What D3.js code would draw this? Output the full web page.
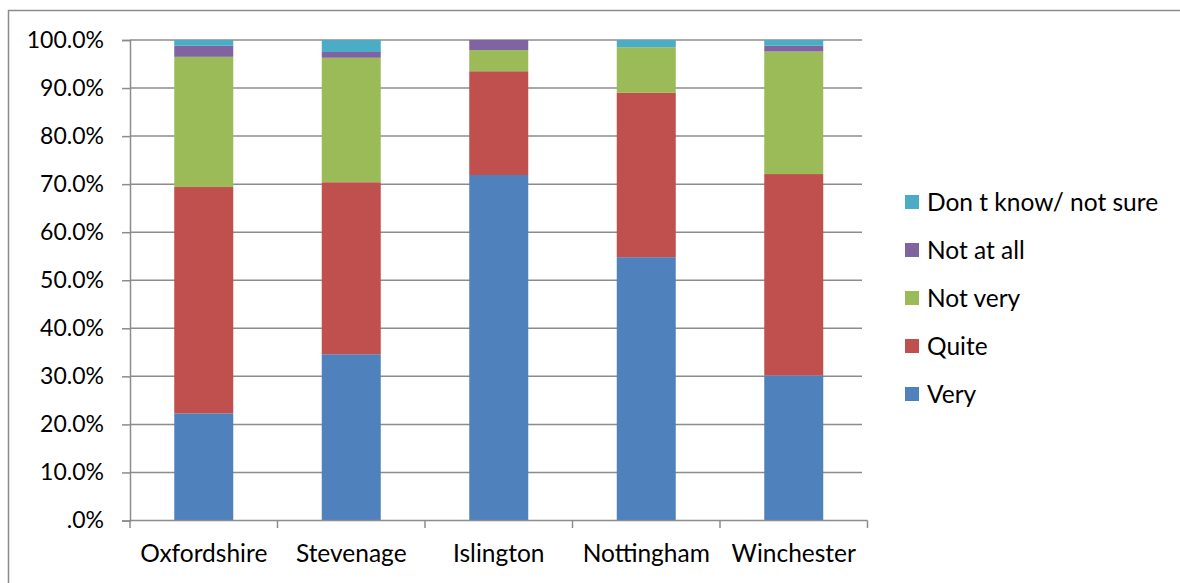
<!DOCTYPE html>
<html><head><meta charset="utf-8">
<script src="https://cdn.jsdelivr.net/npm/d3@7"></script>
<style>body{margin:0;background:#fff;} svg{display:block;} text{font-family:"Lato",sans-serif;}</style>
</head><body>
<svg id="c" width="1180" height="583"></svg>
<script>
const categories = ["Oxfordshire","Stevenage","Islington","Nottingham","Winchester"];
const seriesNames = ["Very","Quite","Not very","Not at all","Don t know/ not sure"];
const very     = [22.3, 34.6, 71.9, 54.8, 30.2];
const quite    = [47.1, 35.8, 21.6, 34.2, 41.9];
const notVery  = [27.1, 25.9, 4.4, 9.5, 25.5];
const notAtAll = [2.3, 1.2, 2.1, 0.0, 1.2];
const dontKnow = [1.2, 2.5, 0.0, 1.5, 1.2];
const yTicks = [0,10,20,30,40,50,60,70,80,90,100];
const yTickLabels = [".0%","10.0%","20.0%","30.0%","40.0%","50.0%","60.0%","70.0%","80.0%","90.0%","100.0%"];
const colors = ["#4f81bd","#c0504d","#9bbb59","#8064a2","#4bacc6"];
const FSY = 23, FSX = 24.5;

const svg = d3.select("#c");
svg.append("rect").attr("x",8.5).attr("y",10.5).attr("width",1200).attr("height",600)
  .attr("fill","none").attr("stroke","#8c8c8c").attr("stroke-width",1.5);

const x = d3.scaleBand().domain(categories).range([130,867.5]).paddingInner(0.6).paddingOuter(0.3);
const y = d3.scaleLinear().domain([0,100]).range([520.5,40]);

svg.append("g").selectAll("line").data(yTicks.slice(1)).join("line")
  .attr("x1",130).attr("x2",862).attr("y1",d=>y(d)).attr("y2",d=>y(d))
  .attr("stroke","#8c8c8c").attr("stroke-width",1.5);

const data = categories.map((c,i)=>({cat:c, "Very":very[i], "Quite":quite[i], "Not very":notVery[i], "Not at all":notAtAll[i], "Don t know/ not sure":dontKnow[i]}));
const stack = d3.stack().keys(seriesNames)(data);
svg.append("g").selectAll("g").data(stack).join("g").attr("fill",(d,i)=>colors[i])
  .selectAll("rect").data(d=>d).join("rect")
  .attr("x",d=>x(d.data.cat)).attr("width",x.bandwidth())
  .attr("y",d=>y(d[1])).attr("height",d=>y(d[0])-y(d[1]));

const ya = svg.append("g").attr("transform","translate(130,0)")
  .call(d3.axisLeft(y).tickValues(yTicks).tickFormat((d,i)=>yTickLabels[i]).tickSize(8).tickPadding(18));
ya.select(".domain").attr("stroke","#8c8c8c").attr("stroke-width",1.5);
ya.selectAll(".tick line").attr("stroke","#8c8c8c").attr("stroke-width",1.5);
ya.selectAll("text").attr("font-size",FSY).attr("fill","#000").attr("font-family","Lato");

const xa = svg.append("g").attr("transform","translate(0,520.5)")
  .call(d3.axisBottom(x).tickSize(0).tickPadding(24));
xa.select(".domain").attr("stroke","#8c8c8c").attr("stroke-width",1.5).attr("d","M130,0H867.5");
xa.selectAll("text").attr("font-size",FSX).attr("fill","#000").attr("font-family","Lato");
const bounds = d3.range(categories.length+1).map(i=>130+i*(737.5/categories.length));
svg.append("g").selectAll("line").data(bounds).join("line")
  .attr("x1",d=>d).attr("x2",d=>d).attr("y1",520.5).attr("y2",528)
  .attr("stroke","#8c8c8c").attr("stroke-width",1.5);

const legendOrder = seriesNames.slice().reverse();
const lg = svg.append("g").selectAll("g").data(legendOrder).join("g")
  .attr("transform",(d,i)=>`translate(905,${202+i*48})`);
lg.append("rect").attr("x",0).attr("y",-7).attr("width",14).attr("height",14)
  .attr("fill",d=>colors[seriesNames.indexOf(d)]);
lg.append("text").attr("x",22).attr("y",0).attr("dy","0.35em").attr("font-size",FSX).text(d=>d);
</script>
</body></html>
